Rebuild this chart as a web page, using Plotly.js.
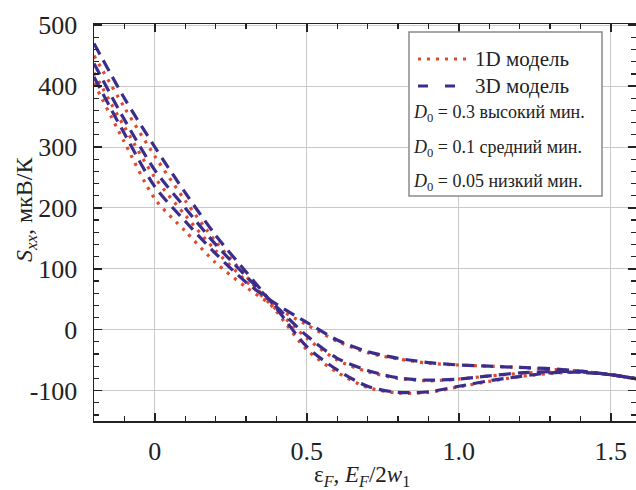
<!DOCTYPE html>
<html>
<head>
<meta charset="utf-8">
<script src="https://cdn.plot.ly/plotly-3.0.1.min.js"></script>
<style>html,body{margin:0;padding:0;background:#fff;}#chart{width:636px;height:490px;}</style>
</head>
<body>
<div id="chart"></div>
<script>
// x values: ε_F (E_F / 2w_1)
const xVals = [-0.2, -0.1, 0, 0.1, 0.2, 0.3, 0.4, 0.5, 0.6, 0.7, 0.8, 0.9, 1.0, 1.1, 1.2, 1.3, 1.4, 1.5, 1.6];
// D0 = 0.05 (low minimum)
const low3D = [470, 380, 300, 225, 155, 95, 35, -28, -66, -93, -103, -102, -93, -84, -77, -71, -70, -74, -82];
const low1D = [450, 365, 285, 212, 145, 88, 30, -33, -70, -95, -104, -103, -94, -85, -77, -72, -70, -74, -82];
// D0 = 0.1 (middle minimum)
const mid3D = [437, 345, 262, 200, 140, 88, 38, -10, -47, -67, -79, -83, -81, -76, -71, -69, -69, -74, -82];
const mid1D = [422, 333, 250, 188, 130, 80, 33, -14, -50, -69, -80, -84, -81, -76, -72, -69, -69, -74, -82];
// D0 = 0.3 (high minimum)
const high3D = [415, 322, 235, 178, 125, 78, 42, 12, -17, -36, -47, -54, -58, -60, -62, -64, -68, -74, -82];
const high1D = [405, 308, 215, 162, 110, 70, 36, 8, -19, -38, -48, -55, -58, -60, -62, -65, -68, -74, -82];

const xTickVals = [0, 0.5, 1.0, 1.5];
const xTickText = ["0", "0.5", "1.0", "1.5"];
const yTickVals = [-100, 0, 100, 200, 300, 400, 500];
const yTickText = ["-100", "0", "100", "200", "300", "400", "500"];

const xTitle = "ε<sub><i>F</i></sub>, <i>E</i><sub><i>F</i></sub>/2<i>w</i><sub>1</sub>";
const yTitle = "<i>S</i><sub><i>xx</i></sub>, мкВ/К";
const legendModels = ["1D модель", "3D модель"];
const legendD0 = ["<i>D</i><sub>0</sub> = 0.3 высокий мин.",
                  "<i>D</i><sub>0</sub> = 0.1 средний мин.",
                  "<i>D</i><sub>0</sub> = 0.05 низкий мин."];

const RED = "#df4a2c";
const NAVY = "#3b2d8c";
const serif = "Liberation Serif";

function t1D(y, name) {
  return {x: xVals, y: y, name: name, mode: "lines", type: "scatter", showlegend: false,
          line: {color: RED, width: 3.2, dash: "3px,6px", shape: "spline", smoothing: 0.8}};
}
function t3D(y, name) {
  return {x: xVals, y: y, name: name, mode: "lines", type: "scatter", showlegend: false,
          line: {color: NAVY, width: 3.2, dash: "12px,7px", shape: "spline", smoothing: 0.8}};
}

const data = [
  t1D(high1D, "1D D0=0.3"), t1D(mid1D, "1D D0=0.1"), t1D(low1D, "1D D0=0.05"),
  t3D(high3D, "3D D0=0.3"), t3D(mid3D, "3D D0=0.1"), t3D(low3D, "3D D0=0.05")
];

// paper coordinate helpers (plot area: x 94..636, y 24..421)
const px = v => (v - 94) / 542;
const py = v => (421 - v) / 397;

const layout = {
  width: 636, height: 490,
  margin: {l: 94, r: 0, t: 24, b: 69},
  paper_bgcolor: "#fff", plot_bgcolor: "#fff",
  font: {family: serif, color: "#222", size: 24},
  showlegend: false,
  xaxis: {
    range: [-0.2, 1.583], tickmode: "array", tickvals: xTickVals, ticktext: xTickText,
    ticks: "inside", ticklen: 8, tickwidth: 1.5, tickcolor: "#222",
    showline: true, linecolor: "#222", linewidth: 1.5, mirror: "ticks",
    showgrid: true, gridcolor: "#c9c9c9", gridwidth: 1, zeroline: false,
    tickfont: {family: serif, size: 26, color: "#222"}, ticklabelstandoff: 6,
    minor: {tickmode: "linear", tick0: 0, dtick: 0.1, ticks: "inside", ticklen: 5, tickwidth: 1.2, tickcolor: "#222", showgrid: false}
  },
  yaxis: {
    range: [-150, 502], tickmode: "array", tickvals: yTickVals, ticktext: yTickText,
    ticks: "inside", ticklen: 8, tickwidth: 1.5, tickcolor: "#222",
    showline: true, linecolor: "#222", linewidth: 1.5, mirror: "ticks",
    showgrid: true, gridcolor: "#c9c9c9", gridwidth: 1, zeroline: false,
    tickfont: {family: serif, size: 26, color: "#222"}, ticklabelstandoff: 10,
    minor: {tickmode: "linear", tick0: 0, dtick: 20, ticks: "inside", ticklen: 5, tickwidth: 1.2, tickcolor: "#222", showgrid: false}
  },
  shapes: [
    {type: "rect", xref: "paper", yref: "paper", x0: px(409), x1: px(602), y0: py(196), y1: py(32),
     line: {color: "#8a8a8a", width: 1.5}, fillcolor: "#fff", layer: "above"},
    {type: "line", xref: "paper", yref: "paper", x0: px(418), x1: px(468), y0: py(59), y1: py(59),
     line: {color: RED, width: 3.2, dash: "3px,6px"}, layer: "above"},
    {type: "line", xref: "paper", yref: "paper", x0: px(418), x1: px(456), y0: py(86), y1: py(86),
     line: {color: NAVY, width: 3.2, dash: "10px,17px"}, layer: "above"}
  ],
  annotations: [
    {xref: "paper", yref: "paper", x: px(362), y: py(476), xanchor: "center", yanchor: "middle", showarrow: false,
     text: xTitle, font: {family: serif, size: 23, color: "#222"}},
    {xref: "paper", yref: "paper", x: px(26), y: py(210), xanchor: "center", yanchor: "middle", showarrow: false,
     textangle: -90, text: yTitle, font: {family: serif, size: 24, color: "#222"}},
    {xref: "paper", yref: "paper", x: px(473), y: py(59), xanchor: "left", yanchor: "middle", showarrow: false,
     text: legendModels[0], font: {family: serif, size: 21, color: "#222"}},
    {xref: "paper", yref: "paper", x: px(473), y: py(86), xanchor: "left", yanchor: "middle", showarrow: false,
     text: legendModels[1], font: {family: serif, size: 21, color: "#222"}},
    {xref: "paper", yref: "paper", x: px(411), y: py(113), xanchor: "left", yanchor: "middle", showarrow: false,
     text: legendD0[0], font: {family: serif, size: 18, color: "#222"}},
    {xref: "paper", yref: "paper", x: px(411), y: py(148), xanchor: "left", yanchor: "middle", showarrow: false,
     text: legendD0[1], font: {family: serif, size: 18, color: "#222"}},
    {xref: "paper", yref: "paper", x: px(411), y: py(182), xanchor: "left", yanchor: "middle", showarrow: false,
     text: legendD0[2], font: {family: serif, size: 18, color: "#222"}}
  ]
};

Plotly.newPlot("chart", data, layout, {staticPlot: true, displayModeBar: false});
</script>
</body>
</html>
